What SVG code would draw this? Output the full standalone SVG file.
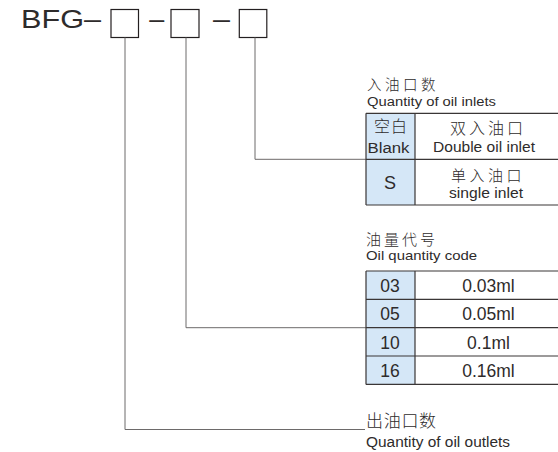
<svg xmlns="http://www.w3.org/2000/svg" width="558" height="452" viewBox="0 0 558 452">
<style>
text{font-family:'Liberation Sans','Noto Sans CJK SC',sans-serif;fill:#2e2b2b}
.cn{font-family:'Noto Sans CJK SC','Liberation Sans',sans-serif;font-weight:300}
.box{fill:#fff;stroke:#231f20;stroke-width:1.2}
.conn{fill:none;stroke:#6d6a6a;stroke-width:1}
.grid{fill:none;stroke:#3a3636;stroke-width:1.2}
.blue{fill:#d5e7f7}
.mid{text-anchor:middle}
</style>
<rect width="558" height="452" fill="#fff"/>

<g id="code">
  <text x="21" y="28" font-size="25" textLength="80" lengthAdjust="spacingAndGlyphs">BFG–</text>
  <rect class="box" x="111" y="9.5" width="27.5" height="28"/>
  <text x="149.3" y="28" font-size="25" textLength="15" lengthAdjust="spacingAndGlyphs">–</text>
  <rect class="box" x="171" y="9.5" width="28" height="28"/>
  <text x="213" y="28" font-size="25" textLength="17" lengthAdjust="spacingAndGlyphs">–</text>
  <rect class="box" x="239.3" y="9.5" width="27.5" height="28"/>
</g>

<g id="connectors">
  <path class="conn" d="M125 37.5V429.5H365"/>
  <path class="conn" d="M186 37.5V327.7H366"/>
  <path class="conn" d="M255 37.5V159.3H366"/>
</g>

<g id="inlets">
  <text class="cn" x="367" y="90" font-size="14.5" letter-spacing="3.5">入油口数</text>
  <text x="367" y="105.5" font-size="12" textLength="129" lengthAdjust="spacingAndGlyphs">Quantity of oil inlets</text>
  <rect class="blue" x="366" y="113.3" width="49" height="91.7"/>
  <path class="grid" d="M366 113.3H558M366 159.3H558M366 205H558M366 113.3V205M415 113.3V205"/>
  <text class="cn mid" x="391" y="132" font-size="16" letter-spacing="1">空白</text>
  <text x="367.5" y="152.5" font-size="14" textLength="42" lengthAdjust="spacingAndGlyphs">Blank</text>
  <text class="cn mid" x="488" y="134" font-size="16" letter-spacing="3">双入油口</text>
  <text x="433" y="152" font-size="15" textLength="102" lengthAdjust="spacingAndGlyphs">Double oil inlet</text>
  <text class="mid" x="390" y="188.5" font-size="18">S</text>
  <text class="cn mid" x="488" y="180.5" font-size="15" letter-spacing="3.5">单入油口</text>
  <text x="449" y="198" font-size="14.5" textLength="74" lengthAdjust="spacingAndGlyphs">single inlet</text>
</g>

<g id="quantity">
  <text class="cn" x="366" y="245" font-size="15" letter-spacing="3">油量代号</text>
  <text x="366" y="260" font-size="13" textLength="111" lengthAdjust="spacingAndGlyphs">Oil quantity code</text>
  <rect class="blue" x="366" y="271" width="49" height="113.4"/>
  <path class="grid" d="M366 271H558M366 299.3H558M366 327.7H558M366 356H558M366 384.4H558M366 271V384.4M415 271V384.4"/>
  <text class="mid" x="390" y="292" font-size="17.5">03</text>
  <text class="mid" x="488.5" y="292" font-size="17.5">0.03ml</text>
  <text class="mid" x="390" y="320.3" font-size="17.5">05</text>
  <text class="mid" x="488.5" y="320.3" font-size="17.5">0.05ml</text>
  <text class="mid" x="390" y="348.7" font-size="17.5">10</text>
  <text class="mid" x="488.5" y="348.7" font-size="17.5">0.1ml</text>
  <text class="mid" x="390" y="377" font-size="17.5">16</text>
  <text class="mid" x="488.5" y="377" font-size="17.5">0.16ml</text>
</g>

<g id="outlets">
  <text class="cn" x="366" y="427" font-size="17" letter-spacing="0.7">出油口数</text>
  <text x="366" y="446.7" font-size="14" textLength="144" lengthAdjust="spacingAndGlyphs">Quantity of oil outlets</text>
</g>
</svg>
